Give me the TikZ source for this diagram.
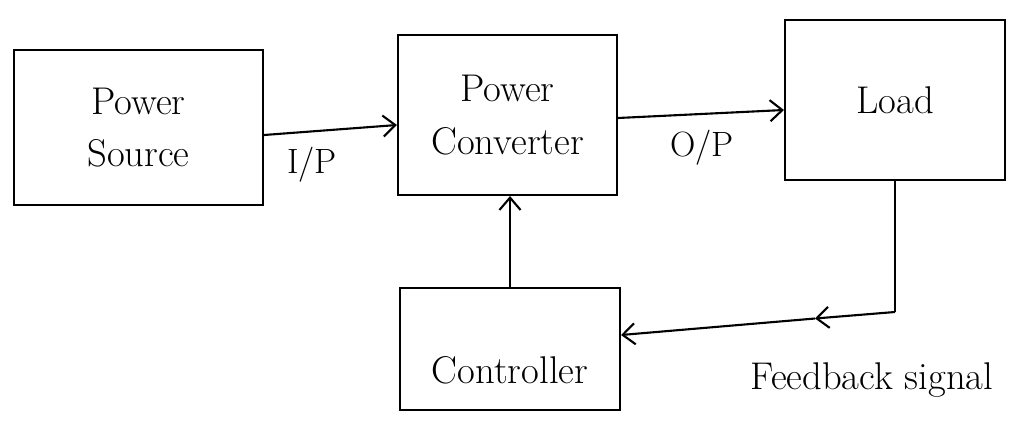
\documentclass[tikz,border=0pt]{standalone}
\usetikzlibrary{arrows.meta}
\begin{document}
	\begin{tikzpicture}[x=0.02cm,y=-0.02cm,line width=1.2pt,
		block/.style={draw=black,rectangle,align=center,font=\fontsize{22}{30}\selectfont},
		flow/.style={-{Straight Barb[length=7pt,width=12pt]}}]
		\tikzstyle{every node}+=[inner sep=0pt]
		\useasboundingbox (0,0) rectangle (1022,430);
		\node [block,minimum width=4.98cm,minimum height=3.1cm] (src) at (138.5,127.5) {Power\\Source};
		\node [block,minimum width=4.38cm,minimum height=3.2cm] (conv) at (507.5,115) {Power\\Converter};
		\node [block,minimum width=4.4cm,minimum height=3.2cm] (load) at (895,100) {Load};
		\node [block,minimum width=4.4cm,minimum height=2.44cm,text height=1.4cm] (ctrl) at (510,349) {Controller};
		\draw [flow] ([yshift=-0.15cm]src.east) -- ([yshift=-0.2cm]conv.west);
		\draw (312,165) node [font=\fontsize{20}{24}\selectfont] (ip) {I/P};
		\draw [flow] ([yshift=-0.06cm]conv.east) -- ([yshift=-0.2cm]load.west);
		\draw (702,148) node [font=\fontsize{20}{24}\selectfont] (op) {O/P};
		\draw [flow] (ctrl.north) -- (ctrl.north |- conv.south);
		\coordinate (fbturn) at (895,312);
		\coordinate (fbmid) at (815,318.5);
		\draw (load.south) -- (fbturn);
		\draw [flow] (fbturn) -- (fbmid);
		\draw [flow] (fbmid) -- ([yshift=0.28cm]ctrl.east);
		\draw (872,380) node [font=\fontsize{22}{26}\selectfont] (fb) {Feedback signal};
	\end{tikzpicture}
\end{document}
